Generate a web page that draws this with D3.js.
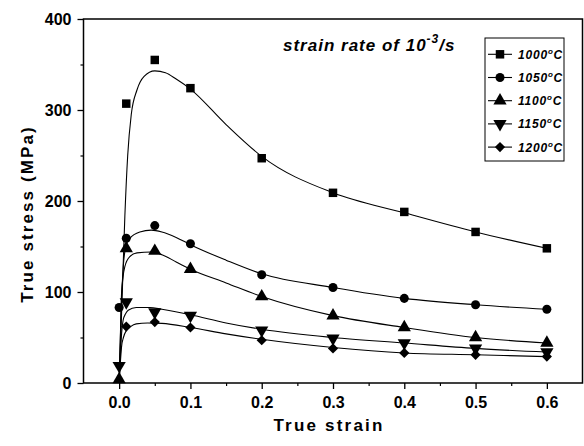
<!DOCTYPE html>
<html>
<head>
<meta charset="utf-8">
<script src="https://cdn.jsdelivr.net/npm/d3@7"></script>
<style>
  body { margin: 0; background: #fff; }
  text { font-family: "Liberation Sans", Arial, sans-serif; font-weight: bold; fill: #000; }
</style>
</head>
<body>
<div id="chart"></div>
<script>
// Temperatures (legend)
const temps = ["1000", "1050", "1100", "1150", "1200"];

// Measured points (strain, stress MPa)
const pts1000Strain = [0.01, 0.05, 0.1, 0.2, 0.3, 0.4, 0.5, 0.6];
const pts1000Stress = [307, 355, 324, 247, 209, 188, 166, 148];
const pts1050Strain = [0, 0.01, 0.05, 0.1, 0.2, 0.3, 0.4, 0.5, 0.6];
const pts1050Stress = [83, 159, 173, 153, 119, 105, 93, 86, 81];
const pts1100Strain = [0, 0.01, 0.05, 0.1, 0.2, 0.3, 0.4, 0.5, 0.6];
const pts1100Stress = [4, 148, 145, 125, 95, 74, 61, 50, 44];
const pts1150Strain = [0, 0.01, 0.05, 0.1, 0.2, 0.3, 0.4, 0.5, 0.6];
const pts1150Stress = [19, 89, 78, 74, 58, 49, 44, 38, 34];
const pts1200Strain = [0.01, 0.05, 0.1, 0.2, 0.3, 0.4, 0.5, 0.6];
const pts1200Stress = [62, 67, 61, 47, 38, 33, 31, 29];

// Fitted curves
const fit1000Strain = [0, 0.004, 0.008, 0.012, 0.017, 0.025, 0.035, 0.05, 0.065, 0.08, 0.1, 0.15, 0.2, 0.3, 0.4, 0.5, 0.6];
const fit1000Stress = [0, 90, 183, 250, 295, 322, 337, 343, 341, 334, 323, 284, 249, 209, 187, 166, 148];
const fit1050Strain = [0, 0.003, 0.006, 0.01, 0.015, 0.029, 0.045, 0.06, 0.08, 0.1, 0.15, 0.2, 0.3, 0.4, 0.5, 0.6];
const fit1050Stress = [0, 85, 130, 152, 159, 166, 168, 166, 160, 152, 135, 120, 105, 93, 86, 81];
const fit1100Strain = [0, 0.002, 0.0035, 0.008, 0.015, 0.025, 0.045, 0.06, 0.08, 0.1, 0.15, 0.2, 0.3, 0.4, 0.5, 0.6];
const fit1100Stress = [0, 60, 100, 128, 139, 143, 144, 141, 133, 125, 110, 95, 74, 61, 50, 44];
const fit1150Strain = [0, 0.002, 0.0035, 0.0056, 0.009, 0.0127, 0.024, 0.043, 0.06, 0.1, 0.15, 0.2, 0.3, 0.4, 0.5, 0.6];
const fit1150Stress = [0, 35, 55, 69, 76, 80, 83, 83, 81, 75, 66, 59, 50, 44, 38, 34];
const fit1200Strain = [0, 0.0015, 0.0034, 0.006, 0.0104, 0.016, 0.024, 0.04, 0.06, 0.1, 0.15, 0.2, 0.3, 0.4, 0.5, 0.6];
const fit1200Stress = [0, 20, 40, 50, 58, 62, 65, 66, 65.5, 61, 54, 48, 39, 33, 31, 29];

const xTicks = [0, 0.1, 0.2, 0.3, 0.4, 0.5, 0.6];
const xMinor = [0.05, 0.15, 0.25, 0.35, 0.45, 0.55];
const yTicks = [0, 100, 200, 300, 400];
const yMinor = [50, 150, 250, 350];

const series = [
  {t: temps[0], sx: pts1000Strain, sy: pts1000Stress, fx: fit1000Strain, fy: fit1000Stress, sym: "square"},
  {t: temps[1], sx: pts1050Strain, sy: pts1050Stress, fx: fit1050Strain, fy: fit1050Stress, sym: "circle"},
  {t: temps[2], sx: pts1100Strain, sy: pts1100Stress, fx: fit1100Strain, fy: fit1100Stress, sym: "up"},
  {t: temps[3], sx: pts1150Strain, sy: pts1150Stress, fx: fit1150Strain, fy: fit1150Stress, sym: "down"},
  {t: temps[4], sx: pts1200Strain, sy: pts1200Stress, fx: fit1200Strain, fy: fit1200Stress, sym: "diamond"}
];

const W = 584, H = 446;
const svg = d3.select("#chart").append("svg").attr("width", W).attr("height", H);

const x = d3.scaleLinear().domain([-0.05, 0.65]).range([83.5, 582.5]);
const y = d3.scaleLinear().domain([0, 400]).range([383, 19]);

// marker drawing
function marker(g, kind) {
  if (kind === "square") {
    g.append("path").attr("d", d3.symbol(d3.symbolSquare, 72)());
  } else if (kind === "circle") {
    g.append("path").attr("d", d3.symbol(d3.symbolCircle, 64)());
  } else if (kind === "up") {
    g.append("path").attr("d", d3.symbol(d3.symbolTriangle, 76)());
  } else if (kind === "down") {
    g.append("path").attr("d", d3.symbol(d3.symbolTriangle, 76)()).attr("transform", "rotate(180)");
  } else {
    g.append("path").attr("d", d3.symbol(d3.symbolSquare, 52)()).attr("transform", "rotate(45)");
  }
}

// x axis
const xAxis = svg.append("g").attr("transform", `translate(0,${y(0)})`)
  .call(d3.axisBottom(x).tickValues(xTicks).tickFormat(d3.format(".1f")).tickSize(6).tickSizeOuter(0));
xAxis.select(".domain").remove();
xAxis.selectAll(".tick line").attr("stroke-width", 1.3);
xAxis.selectAll(".tick text").attr("dy", "1.0em").style("font-size", "16px");
svg.append("g").attr("transform", `translate(0,${y(0)})`)
  .call(d3.axisBottom(x).tickValues(xMinor).tickFormat("").tickSize(3).tickSizeOuter(0))
  .call(g => g.select(".domain").remove())
  .selectAll(".tick line").attr("stroke-width", 1.2);

// y axis
const yAxis = svg.append("g").attr("transform", `translate(${x(-0.05)},0)`)
  .call(d3.axisLeft(y).tickValues(yTicks).tickSize(6).tickSizeOuter(0));
yAxis.select(".domain").remove();
yAxis.selectAll(".tick line").attr("stroke-width", 1.3);
yAxis.selectAll(".tick text").attr("x", -12).style("font-size", "16px");
svg.append("g").attr("transform", `translate(${x(-0.05)},0)`)
  .call(d3.axisLeft(y).tickValues(yMinor).tickFormat("").tickSize(3).tickSizeOuter(0))
  .call(g => g.select(".domain").remove())
  .selectAll(".tick line").attr("stroke-width", 1.2);

// frame
svg.append("rect")
  .attr("x", x(-0.05)).attr("y", y(400))
  .attr("width", x(0.65) - x(-0.05)).attr("height", y(0) - y(400))
  .attr("fill", "none").attr("stroke", "#000").attr("stroke-width", 1.5);

// fitted curves
const line = d3.line().x(d => x(d[0])).y(d => y(d[1])).curve(d3.curveMonotoneX);
series.forEach(s => {
  svg.append("path")
    .datum(s.fx.map((v, i) => [v, s.fy[i]]))
    .attr("d", line)
    .attr("fill", "none").attr("stroke", "#000").attr("stroke-width", 1.1);
});

// data points
series.forEach(s => {
  s.sx.forEach((v, i) => {
    const g = svg.append("g").attr("transform", `translate(${x(v)},${y(s.sy[i])})`).attr("fill", "#000");
    marker(g, s.sym);
  });
});

// title
const title = svg.append("text").attr("x", 283).attr("y", 51)
  .style("font-size", "17px").style("font-style", "italic").style("letter-spacing", "1px");
title.append("tspan").text("strain rate of 10");
title.append("tspan").attr("dy", -8).style("font-size", "12px").text("-3");
title.append("tspan").attr("dy", 8).text("/s");

// legend
svg.append("rect").attr("x", 485).attr("y", 38).attr("width", 79).attr("height", 123)
  .attr("fill", "#fff").attr("stroke", "#000").attr("stroke-width", 1);
series.forEach((s, i) => {
  const ly = 54.3 + i * 23.2;
  svg.append("line").attr("x1", 488).attr("x2", 512).attr("y1", ly).attr("y2", ly)
    .attr("stroke", "#000").attr("stroke-width", 1.1);
  const g = svg.append("g").attr("transform", `translate(500,${ly})`).attr("fill", "#000");
  marker(g, s.sym);
  const t = svg.append("text").attr("x", 518).attr("y", ly + 4.5)
    .style("font-size", "12px").style("font-style", "italic").style("letter-spacing", "0.8px");
  t.append("tspan").text(s.t);
  t.append("tspan").attr("dy", -5).style("font-size", "8px").text("o");
  t.append("tspan").attr("dy", 5).text("C");
});

// axis titles
svg.append("text").attr("x", 329).attr("y", 431).attr("text-anchor", "middle")
  .style("font-size", "17px").style("letter-spacing", "2.2px").text("True strain");
svg.append("text").attr("transform", "translate(33,214) rotate(-90)").attr("text-anchor", "middle")
  .style("font-size", "17px").style("letter-spacing", "2.1px").text("True stress (MPa)");
</script>
</body>
</html>
